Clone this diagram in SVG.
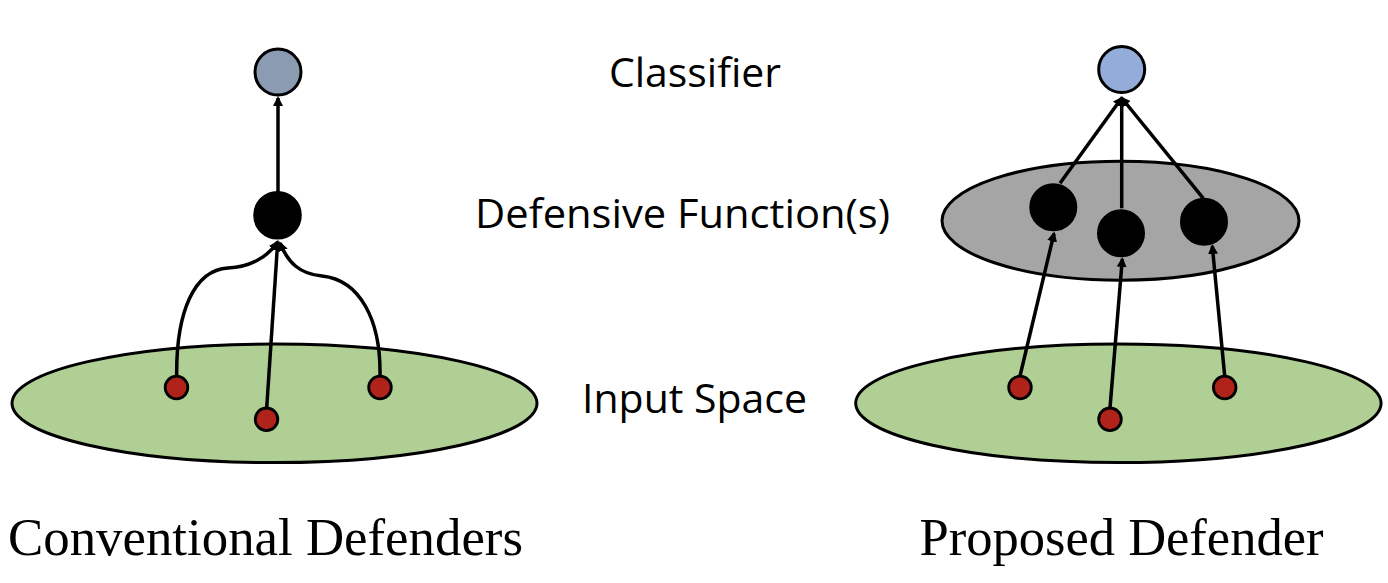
<svg xmlns="http://www.w3.org/2000/svg" width="1388" height="583" viewBox="0 0 1388 583">
<style>
.edge{fill:none;stroke:#000;stroke-width:3.5}
.node{stroke:#000;stroke-width:3}
.dot{fill:#b0231b;stroke:#000;stroke-width:2.8}
.blk{fill:#000;stroke:#000;stroke-width:2}
.lbl{font-family:"Open Sans","Noto Sans",sans-serif;font-size:40px;fill:#000}
.cap{font-family:"Liberation Serif","Times New Roman",serif;font-size:53px;fill:#000}
</style>
<defs>
<marker id="ah" markerUnits="userSpaceOnUse" markerWidth="12" markerHeight="12" refX="8" refY="5" orient="auto">
<path d="M0,0 L10,5 L0,10 z" fill="#000"/>
</marker>
</defs>
<rect width="1388" height="583" fill="#fff"/>
<g id="input-space-left"><ellipse class="node" cx="274.5" cy="403.3" rx="262.5" ry="59.3" fill="#b0cf95"/></g>
<g id="input-space-right"><ellipse class="node" cx="1118.4" cy="403.3" rx="262.7" ry="59.3" fill="#b0cf95"/></g>
<g id="defense-space-right"><ellipse class="node" cx="1120.5" cy="220.7" rx="178.5" ry="59.5" fill="#a5a5a5"/></g>
<g id="connectors">
<path class="edge" marker-end="url(#ah)" d="M278 192 L278 98"/>
<path class="edge" marker-end="url(#ah)" d="M176.7 376 C176 312,194 270,228 268 C250 267,268 257,277.5 242"/>
<path class="edge" marker-end="url(#ah)" d="M266.7 408 L277.7 242"/>
<path class="edge" marker-end="url(#ah)" d="M380 376 C381 320,360 280,322 276 C300 274,288 263,280 243"/>
<path class="edge" marker-end="url(#ah)" d="M1060 183.3 L1121.7 98"/>
<path class="edge" marker-end="url(#ah)" d="M1121.7 208.3 L1121.7 98"/>
<path class="edge" marker-end="url(#ah)" d="M1203.3 198.3 L1121.7 98"/>
<path class="edge" marker-end="url(#ah)" d="M1020 376 L1054 233.5"/>
<path class="edge" marker-end="url(#ah)" d="M1110 408 L1122.3 259"/>
<path class="edge" marker-end="url(#ah)" d="M1224.7 376 L1212.3 246"/>
</g>
<g id="classifier-left"><circle class="node" cx="278" cy="72" r="23" fill="#8a9bb2"/></g>
<g id="defense-left"><circle class="blk" cx="277.5" cy="215.3" r="23.3"/></g>
<g id="input-left-1"><circle class="dot" cx="176.5" cy="387.5" r="11.3"/></g>
<g id="input-left-2"><circle class="dot" cx="266.5" cy="419.3" r="11.3"/></g>
<g id="input-left-3"><circle class="dot" cx="380" cy="387.5" r="11.3"/></g>
<g id="classifier-right"><circle class="node" cx="1121.7" cy="69.5" r="23" fill="#93acd9"/></g>
<g id="defense-right-1"><circle class="blk" cx="1053.3" cy="207.3" r="23"/></g>
<g id="defense-right-2"><circle class="blk" cx="1121" cy="233.3" r="23"/></g>
<g id="defense-right-3"><circle class="blk" cx="1204" cy="221.7" r="23"/></g>
<g id="input-right-1"><circle class="dot" cx="1020" cy="387.5" r="11.3"/></g>
<g id="input-right-2"><circle class="dot" cx="1110" cy="419.3" r="11.3"/></g>
<g id="input-right-3"><circle class="dot" cx="1224.7" cy="387.5" r="11.3"/></g>
<g id="labels">
<text class="lbl" x="609" y="86.7" textLength="172" lengthAdjust="spacingAndGlyphs">Classifier</text>
<text class="lbl" x="475" y="228.3" textLength="415" lengthAdjust="spacingAndGlyphs">Defensive Function(s)</text>
<text class="lbl" x="582" y="412.7" textLength="225" lengthAdjust="spacingAndGlyphs">Input Space</text>
<text class="cap" x="8" y="555" textLength="515" lengthAdjust="spacingAndGlyphs">Conventional Defenders</text>
<text class="cap" x="919.5" y="555" textLength="404" lengthAdjust="spacingAndGlyphs">Proposed Defender</text>
</g>
</svg>
